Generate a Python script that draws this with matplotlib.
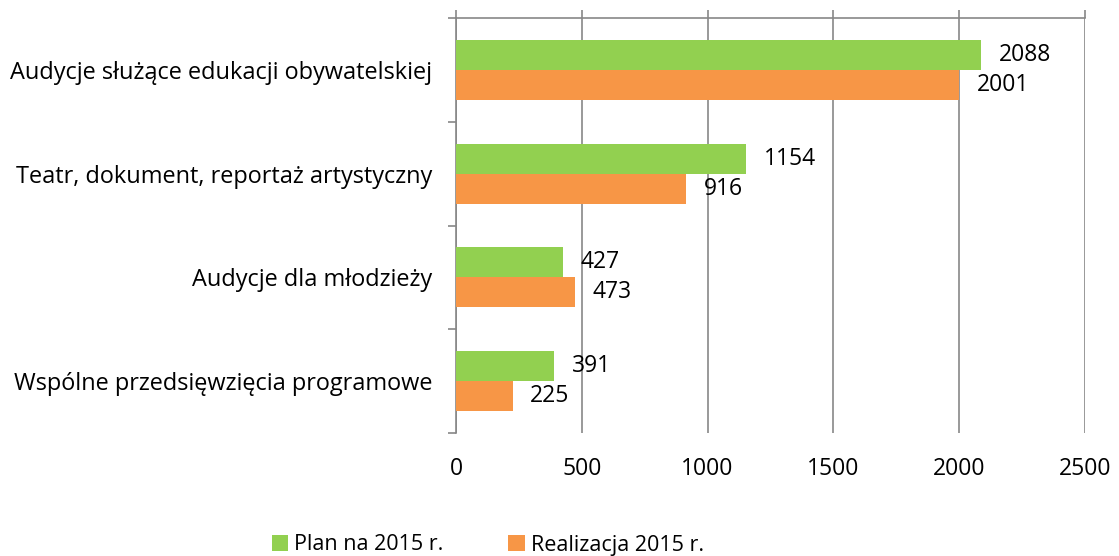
import numpy as np
import matplotlib.pyplot as plt
from matplotlib.ticker import FixedLocator, MultipleLocator

categories = ["Audycje służące edukacji obywatelskiej",
              "Teatr, dokument, reportaż artystyczny",
              "Audycje dla młodzieży",
              "Wspólne przedsięwzięcia programowe"]
plan = [2088, 1154, 427, 391]
realizacja = [2001, 916, 473, 225]
series_names = ["Plan na 2015 r.", "Realizacja 2015 r."]

green = "#92D050"
orange = "#F79646"
grid_col = "#878787"
fs = 16.5

plt.rcParams["font.family"] = ["Open Sans", "DejaVu Sans"]

fig = plt.figure(figsize=(11.19, 5.56), dpi=100)
ax = fig.add_axes([456 / 1119, 1 - 433 / 556, 629 / 1119, 415 / 556])

y = np.arange(len(categories))
h = 0.29
ax.barh(y - h / 2, plan, height=h, color=green, label=series_names[0], zorder=3)
ax.barh(y + h / 2, realizacja, height=h, color=orange, label=series_names[1], zorder=3)

for i in range(len(categories)):
    ax.annotate(str(plan[i]), (plan[i], y[i] - h / 2), xytext=(12.5, 0),
                textcoords="offset points", va="center", ha="left", fontsize=fs)
    ax.annotate(str(realizacja[i]), (realizacja[i], y[i] + h / 2), xytext=(12.5, 0),
                textcoords="offset points", va="center", ha="left", fontsize=fs)

ax.set_xlim(0, 2500)
ax.set_ylim(len(categories) - 0.5, -0.5)
ax.xaxis.set_major_locator(MultipleLocator(500))
ax.grid(axis="x", color=grid_col, linewidth=1.2, zorder=0)

ax.set_yticks(y)
ax.set_yticklabels(categories, fontsize=16.9)
ax.yaxis.set_minor_locator(FixedLocator(np.arange(-0.5, len(categories), 1)))
ax.tick_params(axis="y", which="major", length=0, pad=17)
ax.tick_params(axis="y", which="minor", length=6, width=1.2, color=grid_col, direction="out")

ax.tick_params(axis="x", top=True, bottom=False, labeltop=False, labelbottom=True,
               length=6, width=1.2, color=grid_col, direction="out", pad=11, labelsize=fs)

for s in ["right", "bottom"]:
    ax.spines[s].set_visible(False)
for s in ["left", "top"]:
    ax.spines[s].set_color(grid_col)
    ax.spines[s].set_linewidth(1.2)

fig.legend(loc="center", bbox_to_anchor=(488 / 1119, 1 - 545 / 556), ncol=2,
           frameon=False, fontsize=15.5, handlelength=0.75, handleheight=0.75,
           handletextpad=0.3, columnspacing=3.0, borderpad=0.2)

fig.savefig("out.png", dpi=100)
